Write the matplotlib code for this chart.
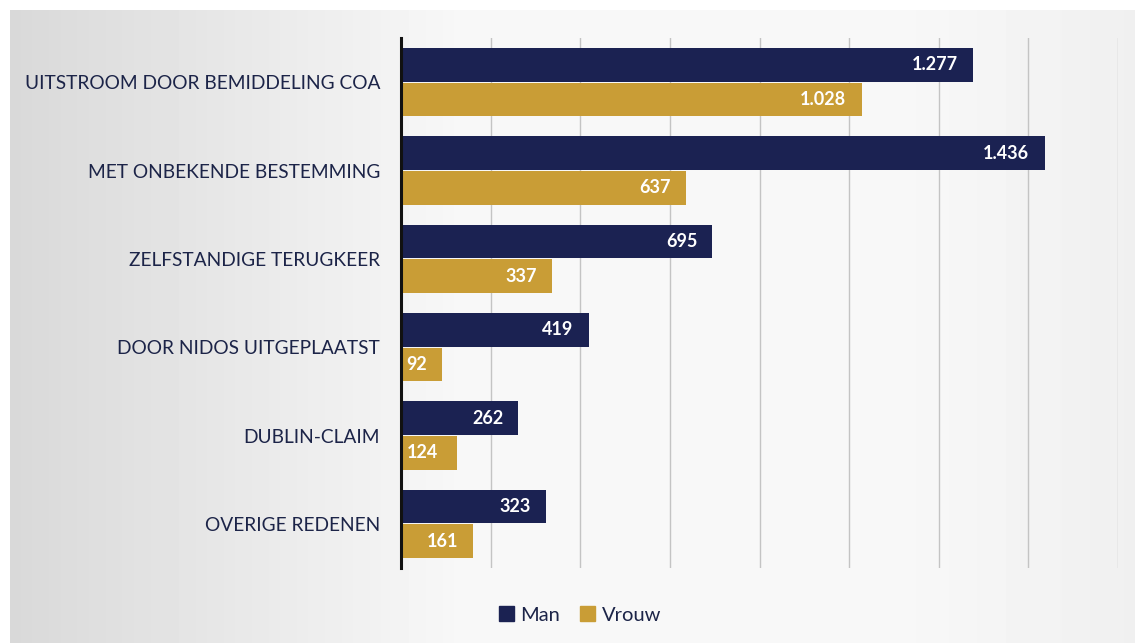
import numpy as np
import matplotlib.pyplot as plt
from matplotlib.patches import Patch

categories = ['UITSTROOM DOOR BEMIDDELING COA', 'MET ONBEKENDE BESTEMMING',
              'ZELFSTANDIGE TERUGKEER', 'DOOR NIDOS UITGEPLAATST',
              'DUBLIN-CLAIM', 'OVERIGE REDENEN']
man = [1277, 1436, 695, 419, 262, 323]
vrouw = [1028, 637, 337, 92, 124, 161]

navy = '#1b2252'
gold = '#c99d36'
textcol = '#1c2448'

plt.rcParams['font.family'] = ['Lato', 'DejaVu Sans']

fig = plt.figure(figsize=(11.35, 6.43), dpi=100)
fig.patch.set_facecolor('white')

# scanned page background: grey on the left, lighter towards the middle
bg = fig.add_axes([0.009, 0, 0.991, 1 - 10 / 643], zorder=-10)
grad = np.linspace(0, 1, 200)
shade = 0.85 + 0.12 * np.minimum(grad * 2.5, 1) - 0.03 * np.maximum(grad - 0.8, 0) * 5
bg.imshow(shade[None, :], aspect='auto', cmap='gray', vmin=0, vmax=1,
          extent=[0, 1, 0, 1])
bg.axis('off')

ax = fig.add_axes([401 / 1135, 1 - 568 / 643, (1118 - 401) / 1135, (568 - 38) / 643])
ax.patch.set_alpha(0)

y = np.arange(len(categories))
h = 0.38
off = 0.195
ax.barh(y - off, man, height=h, color=navy, zorder=3)
ax.barh(y + off, vrouw, height=h, color=gold, zorder=3)

ax.set_xlim(0, 1600)
ax.set_ylim(len(categories) - 0.5, -0.5)
ax.set_xticks(np.arange(200, 1601, 200))
ax.grid(axis='x', color='#c4c4c4', linewidth=1, zorder=0)
ax.tick_params(axis='x', length=0, labelbottom=False)
ax.tick_params(axis='y', length=0, pad=15)
ax.set_yticks(y)
ax.set_yticklabels(categories, fontsize=13.8, color=textcol)
for s in ['top', 'right', 'bottom']:
    ax.spines[s].set_visible(False)
ax.spines['left'].set_linewidth(2.2)
ax.spines['left'].set_color('#111111')
ax.spines['left'].set_zorder(4)


def fmt(v):
    return f'{v:,}'.replace(',', '.')


for vals, dy in [(man, -off), (vrouw, off)]:
    for i, v in enumerate(vals):
        if v < 150:
            ax.annotate(fmt(v), (0, i + dy), xytext=(4, 0), textcoords='offset points',
                        ha='left', va='center', color='white', fontsize=13,
                        fontweight='bold', zorder=5)
        else:
            ax.annotate(fmt(v), (v, i + dy), xytext=(-11, 0), textcoords='offset points',
                        ha='right', va='center', color='white', fontsize=13,
                        fontweight='bold', zorder=5)

handles = [Patch(color=navy, label='Man'), Patch(color=gold, label='Vrouw')]
fig.legend(handles=handles, loc='center', bbox_to_anchor=(580 / 1135, 1 - 615 / 643),
           ncol=2, frameon=False, fontsize=14.5, handlelength=0.75, handleheight=0.75,
           handletextpad=0.3, columnspacing=1.0, labelcolor=textcol)

fig.savefig('out.png', dpi=100)
